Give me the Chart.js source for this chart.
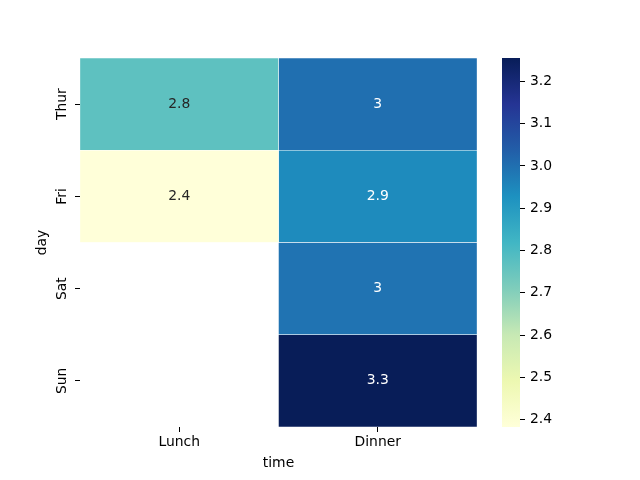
<!doctype html>
<html lang="en">
<head>
  <meta charset="utf-8">
  <title>Mean tip by day and time</title>
  <script src="https://cdn.jsdelivr.net/npm/chart.js"></script>
  <style>
    body { margin: 0; background: #fff; }
    #wrap { position: relative; width: 640px; height: 480px; }
    #wrap canvas { position: absolute; left: 0; top: 0; }
  </style>
</head>
<body>
  <div id="wrap">
    <canvas id="heatmap" width="640" height="480"></canvas>
    <canvas id="colorbar" width="640" height="480"></canvas>
  </div>
<script>
  // data (mean tip, tips dataset)
  const days = ["Thur", "Fri", "Sat", "Sun"];
  const times = ["Lunch", "Dinner"];
  const lunchTips = [2.767705, 2.382857, null, null];
  const dinnerTips = [3.0, 2.94, 2.993103, 3.255132];
  const colorbarTicks = [2.4, 2.5, 2.6, 2.7, 2.8, 2.9, 3.0, 3.1, 3.2];

  // YlGnBu
  const ylgnbu = ["#ffffd9", "#edf8b1", "#c7e9b4", "#7fcdbb", "#41b6c4",
                  "#1d91c0", "#225ea8", "#253494", "#081d58"];

  const allValues = lunchTips.concat(dinnerTips).filter((v) => v !== null);
  const vmin = Math.min(...allValues);
  const vmax = Math.max(...allValues);
  const fontFamily = "'DejaVu Sans', sans-serif";
  const fontSize = 13.9;

  function hexToRgb(h) {
    return [parseInt(h.slice(1, 3), 16), parseInt(h.slice(3, 5), 16), parseInt(h.slice(5, 7), 16)];
  }

  function cmapRgb(v) {
    var t = (v - vmin) / (vmax - vmin);
    t = Math.max(0, Math.min(1, t)) * (ylgnbu.length - 1);
    var i = Math.min(Math.floor(t), ylgnbu.length - 2);
    var f = t - i;
    var a = hexToRgb(ylgnbu[i]);
    var b = hexToRgb(ylgnbu[i + 1]);
    return a.map((c, k) => Math.round(c + (b[k] - c) * f));
  }

  function cmap(v) {
    var c = cmapRgb(v);
    return "rgb(" + c.join(",") + ")";
  }

  function luminance(rgb) {
    var lin = rgb.map((c) => {
      c = c / 255;
      return c <= 0.03928 ? c / 12.92 : Math.pow((c + 0.055) / 1.055, 2.4);
    });
    return 0.2126 * lin[0] + 0.7152 * lin[1] + 0.0722 * lin[2];
  }

  function cellLabel(v) {
    return String(Number(v.toPrecision(2)));
  }

  // one floating bar per cell, spanning its column on the x axis
  function cellSpans(values, time) {
    var col = times.indexOf(time);
    return values.map((v) => (v === null ? null : [col, col + 1]));
  }

  const series = [
    { label: "Lunch", values: lunchTips },
    { label: "Dinner", values: dinnerTips },
  ];

  const annotate = {
    id: "annotate",
    afterDatasetsDraw(chart) {
      const ctx = chart.ctx;
      ctx.save();
      ctx.font = fontSize + "px " + fontFamily;
      ctx.textAlign = "center";
      ctx.textBaseline = "middle";
      chart.data.datasets.forEach((ds, di) => {
        const meta = chart.getDatasetMeta(di);
        meta.data.forEach((bar, i) => {
          const v = series[di].values[i];
          if (v === null) return;
          const p = bar.getCenterPoint();
          ctx.fillStyle = luminance(cmapRgb(v)) > 0.408 ? "#262626" : "#ffffff";
          ctx.fillText(cellLabel(v), p.x, p.y);
        });
      });
      ctx.restore();
    },
  };

  new Chart(document.getElementById("heatmap"), {
    type: "bar",
    data: {
      labels: days,
      datasets: series.map((s) => ({
        label: s.label,
        data: cellSpans(s.values, s.label),
        backgroundColor: s.values.map((v) => (v === null ? "rgba(0,0,0,0)" : cmap(v))),
        borderColor: "#ffffff",
        borderWidth: 0.5,
        borderSkipped: false,
        barPercentage: 1,
        categoryPercentage: 1,
      })),
    },
    options: {
      indexAxis: "y",
      responsive: false,
      animation: false,
      layout: { padding: { left: 30, top: 58, right: 163, bottom: 4 } },
      plugins: { legend: { display: false }, tooltip: { enabled: false } },
      scales: {
        x: {
          type: "linear",
          min: 0,
          max: times.length,
          afterBuildTicks: (scale) => {
            scale.ticks = times.map((t, i) => ({ value: i + 0.5 }));
          },
          afterFit: (scale) => { scale.height = 49; },
          ticks: {
            callback: (value, index) => times[index],
            color: "#000",
            font: { family: fontFamily, size: fontSize },
            padding: 2,
            maxRotation: 0,
          },
          grid: { drawOnChartArea: false, drawTicks: true, tickLength: 5, color: "#000", lineWidth: 1 },
          border: { display: false },
          title: { display: true, text: "time", color: "#000", font: { family: fontFamily, size: fontSize } },
        },
        y: {
          type: "category",
          stacked: true,
          afterFit: (scale) => { scale.width = 50; },
          ticks: {
            color: "#000",
            font: { family: fontFamily, size: fontSize },
            minRotation: 90,
            maxRotation: 90,
            crossAlign: "center",
            padding: -3,
          },
          grid: { offset: false, drawOnChartArea: false, drawTicks: true, tickLength: 5, color: "#000", lineWidth: 1 },
          border: { display: false },
          title: { display: true, text: "day", color: "#000", font: { family: fontFamily, size: fontSize } },
        },
      },
    },
    plugins: [annotate],
  });

  // colorbar
  new Chart(document.getElementById("colorbar"), {
    type: "bar",
    data: {
      labels: [""],
      datasets: [{
        data: [[vmin, vmax]],
        backgroundColor: (context) => {
          const area = context.chart.chartArea;
          if (!area) return ylgnbu[0];
          const g = context.chart.ctx.createLinearGradient(0, area.bottom, 0, area.top);
          ylgnbu.forEach((c, i) => g.addColorStop(i / (ylgnbu.length - 1), c));
          return g;
        },
        borderWidth: 0,
        barPercentage: 1,
        categoryPercentage: 1,
      }],
    },
    options: {
      responsive: false,
      animation: false,
      layout: { padding: { left: 502, top: 58, right: 80, bottom: 53 } },
      plugins: { legend: { display: false }, tooltip: { enabled: false } },
      scales: {
        x: { type: "category", display: false },
        y: {
          type: "linear",
          position: "right",
          min: vmin,
          max: vmax,
          afterBuildTicks: (scale) => {
            scale.ticks = colorbarTicks.map((v) => ({ value: v }));
          },
          afterFit: (scale) => { scale.width = 40; },
          ticks: {
            callback: (value) => value.toFixed(1),
            color: "#000",
            font: { family: fontFamily, size: fontSize },
            padding: 5,
          },
          grid: { drawOnChartArea: false, drawTicks: true, tickLength: 5, color: "#000", lineWidth: 1 },
          border: { display: false },
        },
      },
    },
  });
</script>
</body>
</html>
